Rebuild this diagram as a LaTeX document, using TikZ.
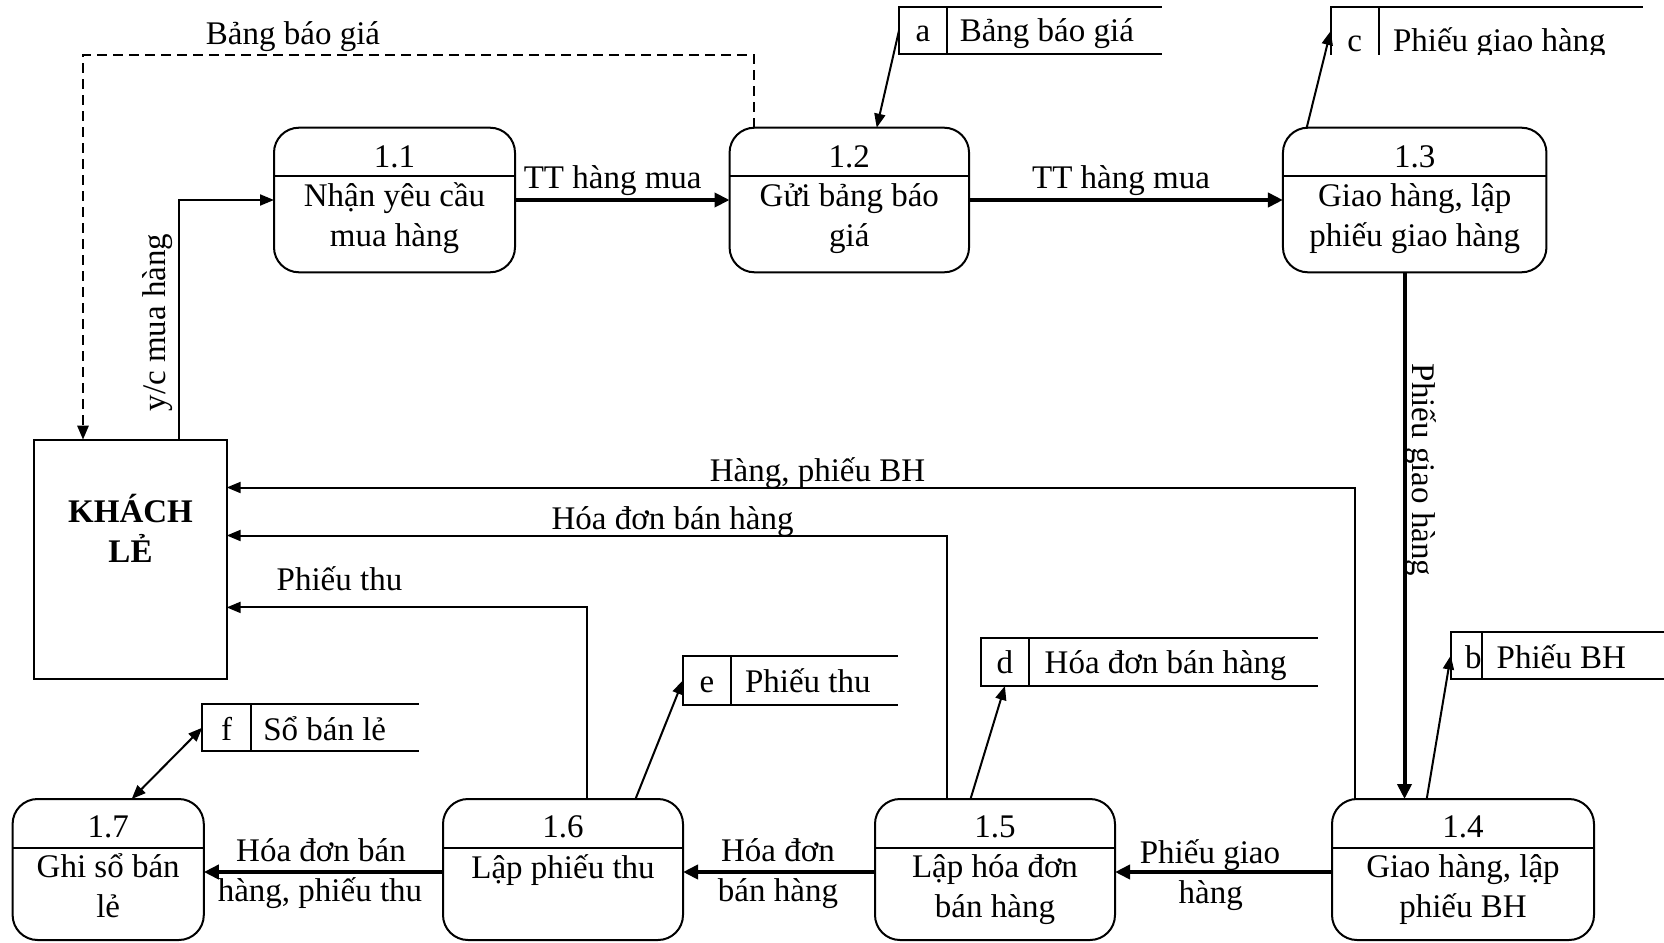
\documentclass[tikz,border=0pt]{standalone}
\usepackage{fontspec}
\setmainfont{Liberation Serif}
\usetikzlibrary{arrows.meta}
\begin{document}
\begin{tikzpicture}[x=1pt,y=-1pt,
  every node/.style={font=\fontsize{33}{40}\selectfont, inner sep=0pt, outer sep=0pt},
  proc/.style={draw, line width=2pt, rounded corners=25pt, minimum width=#1, minimum height=144.6pt},
  procb/.style={draw, line width=2pt, rounded corners=25pt, minimum width=#1, minimum height=141pt},
  thinline/.style={line width=2pt},
  idcell/.style={draw, line width=2pt},
  thinarrow/.style={line width=2pt, -{Triangle[length=14pt,width=11pt]}},
  dblarrow/.style={line width=2pt, {Triangle[length=14pt,width=11pt]}-{Triangle[length=14pt,width=11pt]}},
  thickarrow/.style={line width=4pt, -{Triangle[length=15pt,width=14pt]}},
  dasharrow/.style={line width=2.5pt, dash pattern=on 10pt off 6pt, -{Triangle[length=14pt,width=11pt]}},
  lbl/.style={anchor=base},
  lblw/.style={anchor=base west}
]
\useasboundingbox (0,0) rectangle (1664,942);

% ---------- processes (top row) ----------
\node[proc=241pt] (p11) at (394.5,200) {};
\node[proc=239.5pt] (p12) at (849.3,200) {};
\node[proc=263.5pt] (p13) at (1414.7,200) {};
\foreach \p in {p11,p12,p13}{
  \draw[thinline] (\p.west |- 0,175.7) -- (\p.east |- 0,175.7);
}
\node[lbl] (n11) at (394.5,167) {1.1};
\node[lbl] (t11a) at (394.5,206) {Nhận yêu cầu};
\node[lbl] (t11b) at (394.5,246) {mua hàng};
\node[lbl] (n12) at (849.3,167) {1.2};
\node[lbl] (t12a) at (849.3,206) {Gửi bảng báo};
\node[lbl] (t12b) at (849.3,246) {giá};
\node[lbl] (n13) at (1414.7,167) {1.3};
\node[lbl] (t13a) at (1414.7,206) {Giao hàng, lập};
\node[lbl] (t13b) at (1414.7,246) {phiếu giao hàng};

% ---------- processes (bottom row) ----------
\node[procb=262pt] (p14) at (1463,869.5) {};
\node[procb=240pt] (p15) at (995,869.5) {};
\node[procb=240pt] (p16) at (563,869.5) {};
\node[procb=191.2pt] (p17) at (108.2,869.5) {};
\foreach \p in {p14,p15,p16,p17}{
  \draw[thinline] (\p.west |- 0,847.5) -- (\p.east |- 0,847.5);
}
\node[lbl] (n14) at (1463,837.5) {1.4};
\node[lbl] (t14a) at (1463,877.5) {Giao hàng, lập};
\node[lbl] (t14b) at (1463,917.5) {phiếu BH};
\node[lbl] (n15) at (995,837.5) {1.5};
\node[lbl] (t15a) at (995,877.5) {Lập hóa đơn};
\node[lbl] (t15b) at (995,917.5) {bán hàng};
\node[lbl] (n16) at (563,837.5) {1.6};
\node[lbl] (t16a) at (563,878.5) {Lập phiếu thu};
\node[lbl] (n17) at (108.2,837.5) {1.7};
\node[lbl] (t17a) at (108.2,877.5) {Ghi sổ bán};
\node[lbl] (t17b) at (108.2,917.5) {lẻ};

% ---------- external entity ----------
\node[draw, line width=2pt, minimum width=192.3pt, minimum height=239.6pt] (kh) at (130.5,559.5) {};
\node[lbl, font=\fontsize{33}{40}\selectfont\bfseries] (kh1) at (130.5,522.7) {KHÁCH};
\node[lbl, font=\fontsize{33}{40}\selectfont\bfseries] (kh2) at (130.5,562.5) {LẺ};

% ---------- data stores ----------
% a
\node[idcell, minimum width=48pt, minimum height=47pt] (sa) at (923,30.5) {};
\draw[thinline] (sa.north east) -- ++(215,0);
\draw[thinline] (sa.south east) -- ++(215,0);
\node[lbl] (sat) at (923,41.7) {a};
\node[lblw] (sal) at (959.8,41.7) {Bảng báo giá};
% c (clipped at bottom)
\node[minimum width=48.3pt, minimum height=48pt] (sc) at (1354.8,31) {};
\draw[thinline] (sc.south west) -- (sc.north west) -- (sc.north east) -- ++(264,0);
\draw[thinline] (sc.north east) -- (sc.south east);
\begin{scope}
  \clip (1300,0) rectangle (1664,55);
  \node[lbl] (sct) at (1354.8,52) {c};
  \node[lblw] (scl) at (1393,52) {Phiếu giao hàng};
\end{scope}
% b
\node[idcell, minimum width=31.3pt, minimum height=47.6pt] (sb) at (1466.4,655.5) {};
\draw[thinline] (sb.north east) -- (1664,0 |- sb.north east);
\draw[thinline] (sb.south east) -- (1664,0 |- sb.south east);
\node[lblw] (sbt) at (1465,668) {b};
\node[lblw] (sbl) at (1496.7,668) {Phiếu BH};
% d
\node[idcell, minimum width=48.2pt, minimum height=47.5pt] (sd) at (1004.9,662.2) {};
\draw[thinline] (sd.north east) -- ++(289,0);
\draw[thinline] (sd.south east) -- ++(289,0);
\node[lbl] (sdt) at (1004.9,673) {d};
\node[lblw] (sdl) at (1044.7,673) {Hóa đơn bán hàng};
% e
\node[idcell, minimum width=47.8pt, minimum height=49pt] (se) at (706.9,680.3) {};
\draw[thinline] (se.north east) -- ++(167,0);
\draw[thinline] (se.south east) -- ++(167,0);
\node[lbl] (set) at (706.9,692) {e};
\node[lblw] (sel) at (745,692) {Phiếu thu};
% f
\node[idcell, minimum width=48.7pt, minimum height=47.5pt] (sf) at (226.6,727.7) {};
\draw[thinline] (sf.north east) -- ++(168,0);
\draw[thinline] (sf.south east) -- ++(168,0);
\node[lbl] (sft) at (226.6,740) {f};
\node[lblw] (sfl) at (263.3,740) {Sổ bán lẻ};

% ---------- flows ----------
\draw[thickarrow] (p11.east) -- (p12.west);
\draw[thickarrow] (p12.east) -- (p13.west);
\draw[thickarrow] (1404.5,0 |- p13.south) -- (1404.5,0 |- p14.north);
\draw[thickarrow] (p14.west |- 0,872) -- (p15.east |- 0,872);
\draw[thickarrow] (p15.west |- 0,872) -- (p16.east |- 0,872);
\draw[thickarrow] (p16.west |- 0,872) -- (p17.east |- 0,872);

\draw[thinarrow] (179,0 |- kh.north) |- (p11.west);
\draw[dasharrow] (754,0 |- p12.north) |- (83,55) -- (83,0 |- kh.north);

\draw[thinarrow] (1354.7,0 |- p14.north) |- (kh.east |- 0,487.5);
\draw[thinarrow] (946.6,0 |- p15.north) |- (kh.east |- 0,535.5);
\draw[thinarrow] (586.7,0 |- p16.north) |- (kh.east |- 0,607.4);

\draw[thinarrow] (sa.west) -- (876.7,0 |- p12.north);
\draw[thinarrow] (1306.7,0 |- p13.north) -- (sc.west);
\draw[thinarrow] (1426.7,0 |- p14.north) -- (sb.west);
\draw[thinarrow] (970.5,0 |- p15.north) -- (sd.south);
\draw[thinarrow] (635.5,0 |- p16.north) -- (se.west);
\draw[dblarrow] (131.7,0 |- p17.north) -- (sf.west);

% ---------- flow labels ----------
\node[lbl] (l1) at (612.7,188) {TT hàng mua};
\node[lbl] (l2) at (1121,188) {TT hàng mua};
\node[lbl] (l3) at (293,45) {Bảng báo giá};
\node[rotate=90] (l4) at (158,322.5) {y/c mua hàng};
\node[rotate=-90] (l5) at (1421,470) {Phiếu giao hàng};
\node[lbl] (l6) at (817.5,481) {Hàng, phiếu BH};
\node[lbl] (l7) at (672.6,529.6) {Hóa đơn bán hàng};
\node[lbl] (l8) at (339.5,590.8) {Phiếu thu};
\node[lbl] (l9a) at (321,861.5) {Hóa đơn bán};
\node[lbl] (l9b) at (320,901) {hàng, phiếu thu};
\node[lbl] (l10a) at (778,861.5) {Hóa đơn};
\node[lbl] (l10b) at (778,901) {bán hàng};
\node[lbl] (l11a) at (1210,863) {Phiếu giao};
\node[lbl] (l11b) at (1210.7,903) {hàng};
\end{tikzpicture}
\end{document}
